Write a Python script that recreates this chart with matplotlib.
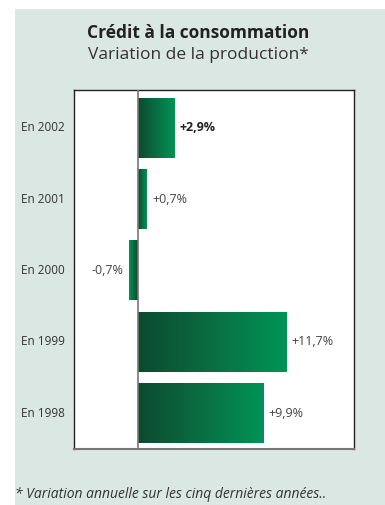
import matplotlib.pyplot as plt
import numpy as np
from matplotlib import patches
from matplotlib.colors import LinearSegmentedColormap

# data
years = ["En 1998", "En 1999", "En 2000", "En 2001", "En 2002"]
values = [9.9, 11.7, -0.7, 0.7, 2.9]
labels = ["+9,9%", "+11,7%", "-0,7%", "+0,7%", "+2,9%"]
bold = [False, False, False, False, True]

plt.rcParams["font.family"] = ["Open Sans", "DejaVu Sans"]

fig = plt.figure(figsize=(3.85, 5.05), dpi=100)
fig.patch.set_facecolor("white")

# light green panel behind everything
bg = patches.Rectangle((15 / 385, 0), 1 - 15 / 385, 1 - 9 / 505,
                       transform=fig.transFigure, facecolor="#dae7e2",
                       edgecolor="none", zorder=-5)
fig.patches.append(bg)

ax = fig.add_axes([74 / 385, 1 - 449 / 505, 280 / 385, 359 / 505])
ax.set_facecolor("white")

cmap = LinearSegmentedColormap.from_list("grn", ["#0c4a2f", "#0a6e42", "#009456"])
grad = np.linspace(0, 1, 256).reshape(1, -1)
h = 0.84
for i, v in enumerate(values):
    ax.imshow(grad, extent=[0, v, i - h / 2, i + h / 2], aspect="auto",
              cmap=cmap, interpolation="bilinear", zorder=2)
    if v >= 0:
        ax.text(v + 0.4, i, labels[i], va="center", ha="left", fontsize=9,
                color="#222222" if bold[i] else "#444444",
                fontweight="bold" if bold[i] else "normal")
    else:
        ax.text(v - 0.45, i, labels[i], va="center", ha="right", fontsize=9,
                color="#444444")
    ax.text(-0.111, i, years[i], transform=ax.get_yaxis_transform(),
            va="center", ha="center", fontsize=8.5, color="#333333")

ax.axvline(0, color="#777777", lw=1.2, zorder=3)
ax.set_xlim(-5.06, 17.07)
ax.set_ylim(-0.505, 4.533)
ax.set_xticks([])
ax.set_yticks([])
for s in ["left", "top", "right"]:
    ax.spines[s].set_color("#222222")
    ax.spines[s].set_linewidth(1)
ax.spines["bottom"].set_color("#777777")
ax.spines["bottom"].set_linewidth(1.5)

fig.text(198 / 385, 1 - 33 / 505, "Crédit à la consommation", ha="center",
         va="center", fontsize=12.5, fontweight="bold", color="#222222")
fig.text(198 / 385, 1 - 55 / 505, "Variation de la production*", ha="center",
         va="center", fontsize=12.5, color="#333333")
fig.text(15 / 385, 1 - 495 / 505, "* Variation annuelle sur les cinq dernières années..",
         ha="left", va="center", fontsize=10, style="italic", color="#333333")

fig.savefig("out.png", dpi=100)
